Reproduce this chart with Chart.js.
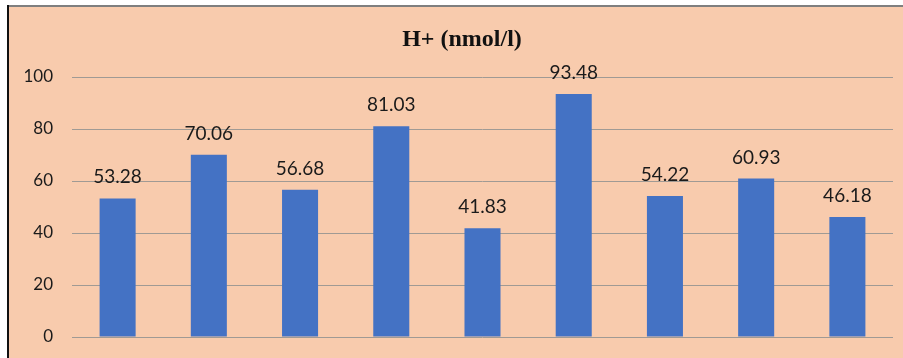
<!DOCTYPE html>
<html>
<head>
<meta charset="utf-8">
<script src="https://cdn.jsdelivr.net/npm/chart.js@4.4.0/dist/chart.umd.min.js"></script>
<style>
  html, body { margin: 0; padding: 0; background: #fff; }
  #wrap { width: 903px; height: 358px; }
</style>
</head>
<body>
<div id="wrap"><canvas id="myChart" width="903" height="358"></canvas></div>
<script>
// values
var categories = ['1', '2', '3', '4', '5', '6', '7', '8', '9'];
var hValues = [53.28, 70.06, 56.68, 81.03, 41.83, 93.48, 54.22, 60.93, 46.18];
var yTicks = [0, 20, 40, 60, 80, 100];
var chartTitle = 'H+ (nmol/l)';

// peach panel + title
var panelPlugin = {
  id: 'panel',
  beforeDraw: function(chart) {
    var ctx = chart.ctx;
    ctx.save();
    ctx.fillStyle = '#ffffff';
    ctx.fillRect(0, 0, chart.width, chart.height);
    ctx.fillStyle = '#F8CBAD';
    ctx.fillRect(8, 6, chart.width - 8, chart.height - 6);
    ctx.fillStyle = '#7f7f7f';
    ctx.fillRect(8, 5, chart.width - 8, 2);
    ctx.fillStyle = '#111111';
    ctx.fillRect(7, 5, 2, chart.height - 5);
    ctx.fillStyle = '#111111';
    ctx.font = 'bold 24px "Liberation Serif", "Times New Roman", serif';
    ctx.textAlign = 'center';
    ctx.textBaseline = 'middle';
    ctx.fillText(chartTitle, 462, 40);
    ctx.restore();
  }
};

// y tick labels + numbers over the bars
var labelPlugin = {
  id: 'barLabels',
  afterDatasetsDraw: function(chart) {
    var ctx = chart.ctx;
    var meta = chart.getDatasetMeta(0);
    var yScale = chart.scales.y;
    ctx.save();
    ctx.fillStyle = '#1a1a1a';
    ctx.font = '17px Lato, "Open Sans", sans-serif';
    ctx.textAlign = 'right';
    ctx.textBaseline = 'middle';
    yTicks.forEach(function(v) {
      ctx.fillText(String(v), 53, yScale.getPixelForValue(v));
    });
    ctx.font = '19px Lato, "Open Sans", sans-serif';
    ctx.textAlign = 'center';
    ctx.textBaseline = 'alphabetic';
    meta.data.forEach(function(bar, i) {
      ctx.fillText(hValues[i].toFixed(2), bar.x, bar.y - 15);
    });
    ctx.restore();
  }
};

const ctx = document.getElementById('myChart').getContext('2d');
var myChart = new Chart(ctx, {
  type: 'bar',
  data: {
    labels: categories,
    datasets: [{
      label: chartTitle,
      data: hValues,
      backgroundColor: '#4472C4',
      borderWidth: 0,
      categoryPercentage: 1,
      barPercentage: 0.395
    }]
  },
  options: {
    responsive: false,
    animation: false,
    layout: {
      padding: { top: 77, bottom: 21, right: 10, left: 0 }
    },
    plugins: {
      legend: { display: false },
      title: { display: false },
      tooltip: { enabled: false }
    },
    scales: {
      x: {
        display: false
      },
      y: {
        min: 0,
        max: 100,
        afterFit: function(scale) { scale.width = 72; },
        afterBuildTicks: function(scale) {
          scale.ticks = yTicks.map(function(v) { return { value: v }; });
        },
        border: { display: false },
        grid: {
          color: '#a09a94',
          lineWidth: 1,
          drawTicks: false
        },
        ticks: {
          display: false
        }
      }
    }
  },
  plugins: [panelPlugin, labelPlugin]
});
</script>
</body>
</html>
